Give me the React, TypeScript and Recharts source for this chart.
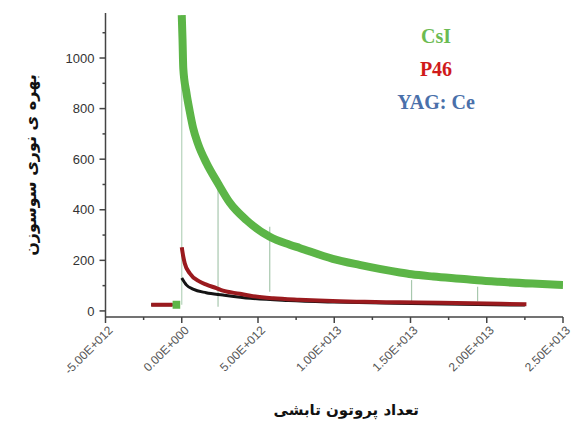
import React from 'react';
import { LineChart, Line, XAxis, YAxis, Label } from 'recharts';

// x values are in units of 1e12 protons
const csiX = [-0.6, -0.1, null, 0, 0.05, 0.1, 0.3, 0.52, 0.74, 1.07, 1.62, 2.38, 3.15, 4.24, 5.77, 7.08, 7.73, 9.9, 11.66, 14.3, 15.07, 16.5, 18.7, 19.4, 20.8, 23, 25];
const csiY = [24, 24, null, 1170, 1075, 960, 865, 790, 725, 660, 585, 504, 428, 359, 293, 262, 249, 206, 182, 152, 145, 136, 125, 121, 115, 108, 103];

const p46X = [-2.0, -0.6, -0.3, 0, 0.1, 0.2, 0.52, 1.18, 1.62, 2.27, 2.7, 3.8, 4.5, 6, 7.7, 10.35, 12, 14.3, 17, 20, 22.6];
const p46Y = [24, 24, null, 252, 215, 188, 149, 116, 104, 90, 80, 68, 60, 50, 44, 38, 36, 34, 32, 29, 26];

const yagX = [-2.0, -0.6, -0.3, 0, 0.3, 0.74, 1.6, 2.7, 4.5, 7, 10, 14, 22.5];
const yagY = [24, 24, null, 130, 103, 86, 72, 63, 50, 41, 35, 30, 23];

// short drop-outs of the CsI signal (thin vertical traces)
const dropX = [0, 2.38, 5.77, 15.07, 19.4];
const dropTop = [1170, 480, 333, 122, 96];
const dropBottom = [24, 17, 76, 37, 37];

const xMajorTicks = [-5, 0, 5, 10, 15, 20, 25];
const xMajorLabels = ['-5.00E+012', '0.00E+000', '5.00E+012', '1.00E+013', '1.50E+013', '2.00E+013', '2.50E+013'];
const xMinorTicks = [-2.5, 2.5, 7.5, 12.5, 17.5, 22.5];
const yMajorTicks = [0, 200, 400, 600, 800, 1000];
const yMinorTicks = [100, 300, 500, 700, 900, 1100];

const legendNames = ['CsI', 'P46', 'YAG: Ce'];
const legendColors = ['#6cbb52', '#d01a1a', '#4a70aa'];

const xTitle = 'تعداد پروتون تابشی';
const yTitle = 'بهره ی نوری سوسوزن';

const toRows = (xs: (number | null)[], ys: (number | null)[]) =>
  xs.map((x, i) => ({ x: x === null ? (xs[i - 1] as number) + 0.1 : x, y: ys[i] }));

const csiData = toRows(csiX, csiY);
const p46Data = toRows(p46X, p46Y);
const yagData = toRows(yagX, yagY);
const dropData = dropX.map((x, i) => [
  { x, y: dropTop[i] },
  { x, y: dropBottom[i] },
]);

const allXTicks = [...xMajorTicks, ...xMinorTicks].sort((a, b) => a - b);
const allYTicks = [...yMajorTicks, ...yMinorTicks].sort((a, b) => a - b);

const XTick = (props: any) => {
  const { x, y, payload } = props;
  const i = xMajorTicks.indexOf(payload.value);
  const major = i >= 0;
  const ax = x + 8;
  const ay = y + 14;
  return (
    <g>
      <line x1={x} x2={x} y1={y} y2={y + (major ? 6 : 3)} stroke="#444" strokeWidth={1.5} />
      {major && (
        <text
          x={ax}
          y={ay}
          transform={`rotate(-45 ${ax} ${ay})`}
          textAnchor="end"
          fontSize={12}
          fill="#555"
          fontFamily="'Liberation Sans', Arial, sans-serif"
        >
          {xMajorLabels[i]}
        </text>
      )}
    </g>
  );
};

const YTick = (props: any) => {
  const { x, y, payload } = props;
  const major = yMajorTicks.indexOf(payload.value) >= 0;
  return (
    <g>
      <line x1={x - (major ? 6 : 3)} x2={x} y1={y} y2={y} stroke="#444" strokeWidth={1.5} />
      {major && (
        <text
          x={x - 11}
          y={y}
          dy="0.36em"
          textAnchor="end"
          fontSize={13}
          fill="#333"
          fontFamily="'Liberation Sans', Arial, sans-serif"
        >
          {payload.value}
        </text>
      )}
    </g>
  );
};

const YTitle = (props: any) => {
  const vb = props.viewBox || { x: 0, y: 0, width: 0, height: 0 };
  const cx = vb.x + 25;
  const cy = 165;
  return (
    <text
      x={cx}
      y={cy}
      transform={`rotate(-90 ${cx} ${cy})`}
      textAnchor="middle"
      dominantBaseline="central"
      fontSize={16}
      fontWeight="bold"
      fill="#111"
      fontFamily="'DejaVu Sans', sans-serif"
    >
      {yTitle}
    </text>
  );
};

const XTitle = (props: any) => {
  const vb = props.viewBox || { x: 0, y: 0, width: 0, height: 0 };
  const cx = vb.x + vb.width / 2 + 12;
  const cy = 410;
  return (
    <text
      x={cx}
      y={cy}
      textAnchor="middle"
      dominantBaseline="central"
      fontSize={15}
      fontWeight="bold"
      fill="#111"
      fontFamily="'DejaVu Sans', sans-serif"
    >
      {xTitle}
    </text>
  );
};

export default function App() {
  return (
    <div style={{ position: 'absolute', left: 0, top: 0, width: 572, height: 422, background: '#fff' }}>
      <LineChart width={572} height={422} margin={{ top: 13, right: 9, bottom: 5, left: 5.5 }}>
        <XAxis
          type="number"
          dataKey="x"
          domain={[-5, 25]}
          ticks={allXTicks}
          interval={0}
          allowDataOverflow
          height={100}
          tickLine={false}
          tickSize={0}
          tickMargin={0}
          axisLine={{ stroke: '#444', strokeWidth: 1.5 }}
          tick={<XTick />}
        >
          <Label content={<XTitle />} />
        </XAxis>
        <YAxis
          type="number"
          domain={[-24, 1178]}
          ticks={allYTicks}
          interval={0}
          allowDataOverflow
          width={100}
          tickLine={false}
          tickSize={0}
          tickMargin={0}
          axisLine={{ stroke: '#444', strokeWidth: 1.5 }}
          tick={<YTick />}
        >
          <Label content={<YTitle />} />
        </YAxis>
        {dropData.map((d, i) => (
          <Line
            key={'drop' + i}
            data={d}
            dataKey="y"
            stroke={i === 0 ? '#b5d3bb' : '#a8c8ae'}
            strokeWidth={1.2}
            dot={false}
            isAnimationActive={false}
            legendType="none"
          />
        ))}
        <Line
          data={yagData}
          dataKey="y"
          name="YAG: Ce"
          type="monotone"
          stroke="#141414"
          strokeWidth={3}
          dot={false}
          isAnimationActive={false}
        />
        <Line
          data={p46Data}
          dataKey="y"
          name="P46"
          type="monotone"
          stroke="#9a1a1e"
          strokeWidth={4}
          dot={false}
          isAnimationActive={false}
        />
        <Line
          data={csiData}
          dataKey="y"
          name="CsI"
          type="monotone"
          stroke="#5cb547"
          strokeWidth={8}
          dot={false}
          isAnimationActive={false}
        />
      </LineChart>
      <div
        style={{
          position: 'absolute',
          left: 376,
          top: 20,
          width: 120,
          fontFamily: "'Liberation Serif', 'Times New Roman', serif",
          fontWeight: 'bold',
          fontSize: 20,
          lineHeight: '33px',
          textAlign: 'center',
        }}
      >
        {legendNames.map((n, i) => (
          <div key={n} style={{ color: legendColors[i] }}>
            {n}
          </div>
        ))}
      </div>
    </div>
  );
}
